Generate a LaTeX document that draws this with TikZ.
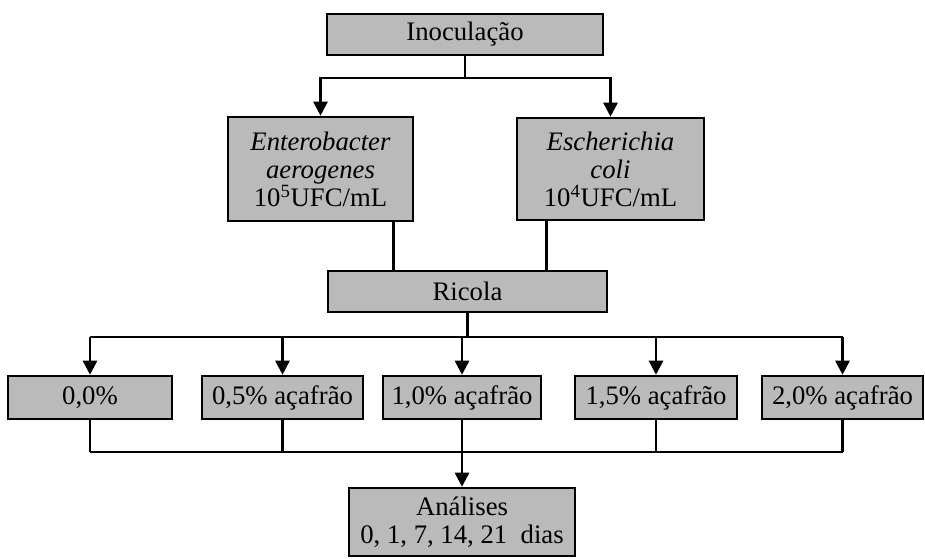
\documentclass[tikz,border=0pt]{standalone}
\usepackage{fontspec}
\setmainfont{Liberation Serif}
\usetikzlibrary{arrows.meta}
\tikzset{
  stage/.style={draw, line width=1.8pt, fill=black!27, inner sep=0pt,
    align=center, font=\fontsize{19}{20}\selectfont},
  link/.style={line width=1.9pt},
  arr/.style={link, -{Triangle[width=10pt,length=10pt]}}
}
\begin{document}
\begin{tikzpicture}[x=0.025cm, y=-0.025cm]
  \useasboundingbox (0, 0) rectangle (925, 558);
  \node[stage, minimum width=6.9cm, minimum height=1.025cm] (inoc) at (465, 34.5) {Inoculação};
  \node[stage, minimum width=4.625cm, minimum height=2.6cm] (ent) at (320.5, 169)
    {\textit{Enterobacter}\\\textit{aerogenes}\\10\textsuperscript{5}UFC/mL};
  \node[stage, minimum width=4.675cm, minimum height=2.55cm] (esc) at (610.5, 169)
    {\textit{Escherichia}\\\textit{coli}\\10\textsuperscript{4}UFC/mL};
  \node[stage, minimum width=6.975cm, minimum height=1.025cm] (ricola) at (467.5, 291.5) {Ricola};
  \node[stage, minimum width=4.1cm, minimum height=1.075cm] (p0) at (90, 397.5) {0,0\%};
  \node[stage, minimum width=4.025cm, minimum height=1.075cm] (p1) at (282.5, 397.5) {0,5\% açafrão};
  \node[stage, minimum width=3.95cm, minimum height=1.075cm] (p2) at (462, 397.5) {1,0\% açafrão};
  \node[stage, minimum width=4.05cm, minimum height=1.075cm] (p3) at (656, 397.5) {1,5\% açafrão};
  \node[stage, minimum width=4.025cm, minimum height=1.075cm] (p4) at (842.5, 397.5) {2,0\% açafrão};
  \node[stage, minimum width=5.65cm, minimum height=1.7cm] (ana) at (462, 522)
    {Análises\\0, 1, 7, 14, 21\ \ dias};
  % junctions
  \coordinate (split) at (465, 78);
  \coordinate (bus1) at (463, 337);
  \coordinate (bus2) at (463, 452);
  \draw[link] (inoc.south) -- (split);
  \draw[arr] (split) -| (ent.north);
  \draw[arr] (split) -| (esc.north);
  \draw[link] ([xshift=-0.525cm]ent.south east) -- ([xshift=-0.525cm]ent.south east |- ricola.north);
  \draw[link] ([xshift=0.775cm]esc.south west) -- ([xshift=0.775cm]esc.south west |- ricola.north);
  \draw[link] (ricola.south) -- (ricola.south |- bus1);
  \draw[link] (p0.north |- bus1) -- (p4.north |- bus1);
  \foreach \p in {p0, p1, p2, p3, p4} \draw[arr] (\p.north |- bus1) -- (\p.north);
  \foreach \p in {p0, p1, p3, p4} \draw[link] (\p.south) -- (\p.south |- bus2);
  \draw[link] (p0.south |- bus2) -- (p4.south |- bus2);
  \draw[arr] (p2.south) -- (ana.north);
\end{tikzpicture}
\end{document}
